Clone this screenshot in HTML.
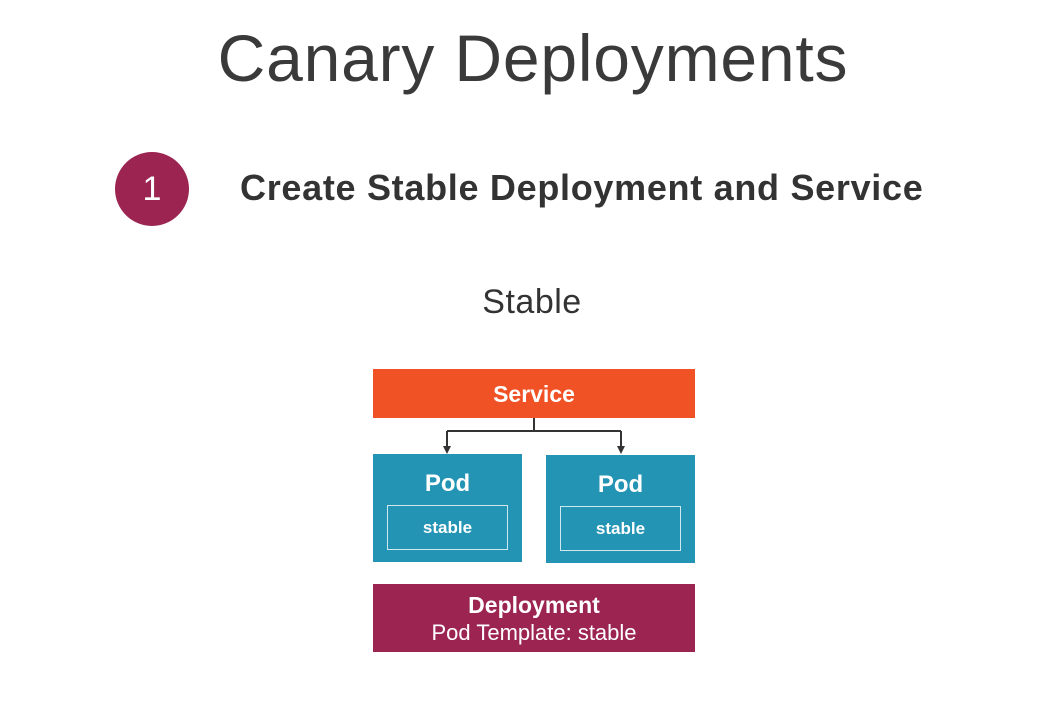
<!DOCTYPE html>
<html><head><style>
body{margin:0;width:1058px;height:705px;background:#fff;position:relative;overflow:hidden;font-family:"Liberation Sans",sans-serif;color:#333}
.a{position:absolute}
.t{left:0;width:1066px;text-align:center;top:20px;font-size:66px;color:#3a3a3a;letter-spacing:0.8px}
.c{left:115px;top:152px;width:74px;height:74px;border-radius:50%;background:#9b2450;color:#fff;font-size:34px;text-align:center;line-height:74px}
.h{left:240px;top:167px;font-size:36px;font-weight:bold;color:#333;letter-spacing:0.7px}
.s{left:0;width:1064px;text-align:center;top:283px;font-size:34px;color:#333;letter-spacing:0.5px}
.svc{left:373px;top:369px;width:322px;height:49px;background:#f05125;color:#fff;font-weight:bold;font-size:23px;text-align:center;line-height:50px}
.pod{width:149px;height:108px;background:#2494b4;color:#fff}
.pod .l{position:absolute;left:0;right:0;top:16px;text-align:center;font-weight:bold;font-size:24px}
.pod .in{position:absolute;left:14px;top:51px;width:119px;height:43px;border:1px solid #cde8ef;text-align:center;line-height:43px;font-weight:bold;font-size:17px}
.dep{left:373px;top:584px;width:322px;height:68px;background:#9b2450;color:#fff;text-align:center}
</style></head><body>
<div class="a t">Canary Deployments</div>
<div class="a c">1</div>
<div class="a h">Create Stable Deployment and Service</div>
<div class="a s">Stable</div>
<div class="a svc">Service</div>
<svg class="a" style="left:0;top:0" width="1058" height="705">
<path d="M534 418V431M447 431H621M447 431V448M621 431V448" stroke="#333" stroke-width="2" fill="none"/>
<path d="M443 446L451 446L447 454Z M617 446L625 446L621 454Z" fill="#333"/>
</svg>
<div class="a pod" style="left:373px;top:454px"><div class="l">Pod</div><div class="in">stable</div></div>
<div class="a pod" style="left:546px;top:455px"><div class="l">Pod</div><div class="in">stable</div></div>
<div class="a dep"><div style="font-weight:bold;font-size:23px;margin-top:8px">Deployment</div><div style="font-size:22px;margin-top:1px">Pod Template: stable</div></div>
</body></html>
